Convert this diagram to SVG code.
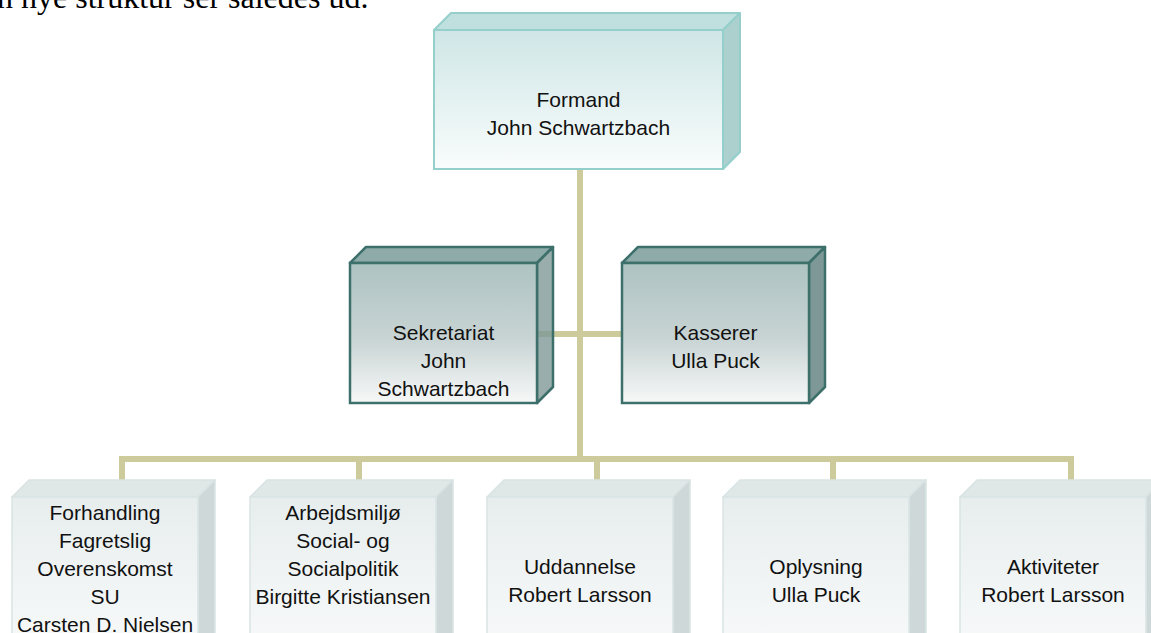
<svg xmlns="http://www.w3.org/2000/svg" width="1151" height="633" viewBox="0 0 1151 633">
  <defs>
    <linearGradient id="gTop" x1="0" y1="0" x2="0" y2="1">
      <stop offset="0" stop-color="#cfe6e6"/>
      <stop offset="1" stop-color="#f9fcfc"/>
    </linearGradient>
    <linearGradient id="gMid" x1="0" y1="0" x2="0" y2="1">
      <stop offset="0" stop-color="#adc3c2"/>
      <stop offset="0.55" stop-color="#c9d4d4"/>
      <stop offset="1" stop-color="#f7f8f8"/>
    </linearGradient>
    <linearGradient id="gBot" x1="0" y1="0" x2="0" y2="1">
      <stop offset="0" stop-color="#e7eded"/>
      <stop offset="1" stop-color="#fbfcfc"/>
    </linearGradient>
  </defs>
  <style>
    .t { font-family: "Liberation Sans", Arial, sans-serif; font-size: 21px; fill: #111; text-anchor: middle; }
    .cap { font-family: "Liberation Serif", "Times New Roman", serif; font-size: 32px; fill: #000; }
    .conn { stroke: #cdcb9b; stroke-width: 6; fill: none; }
    .topF { fill: url(#gTop); stroke: #94cfcc; stroke-width: 2; }
    .topT { fill: #bfe0df; stroke: #94cfcc; stroke-width: 2; stroke-linejoin: round; }
    .topR { fill: #acd0ce; stroke: #94cfcc; stroke-width: 2; stroke-linejoin: round; }
    .midF { fill: url(#gMid); stroke: #3d6f6b; stroke-width: 2.5; }
    .midT { fill: #8eaaa9; stroke: #3d6f6b; stroke-width: 2.5; stroke-linejoin: round; }
    .midR { fill: #7e9897; stroke: #3d6f6b; stroke-width: 2.5; stroke-linejoin: round; }
    .botF { fill: url(#gBot); stroke: #d9e3e3; stroke-width: 1.5; }
    .botT { fill: #dfe7e7; stroke: #d9e3e3; stroke-width: 1.5; stroke-linejoin: round; }
    .botR { fill: #cfd8d8; stroke: #d9e3e3; stroke-width: 1.5; stroke-linejoin: round; }
  </style>
  <rect width="1151" height="633" fill="#ffffff"/>

  <text class="cap" x="-3" y="8">n nye struktur ser således ud.</text>

  <g id="connectors">
    <line class="conn" x1="580" y1="168" x2="580" y2="459"/>
    <line class="conn" x1="537" y1="334" x2="622" y2="334"/>
    <polyline class="conn" points="122,481 122,459 1071,459 1071,481"/>
    <line class="conn" x1="359" y1="459" x2="359" y2="481"/>
    <line class="conn" x1="597" y1="459" x2="597" y2="481"/>
    <line class="conn" x1="833" y1="459" x2="833" y2="481"/>
  </g>

  <g id="formand">
    <polygon class="topT" points="434,30 451,13 740,13 723,30"/>
    <polygon class="topR" points="723,30 740,13 740,152 723,169"/>
    <rect class="topF" x="434" y="30" width="289" height="139"/>
    <text class="t" x="578.5" y="107">Formand</text>
    <text class="t" x="578.5" y="135">John Schwartzbach</text>
  </g>

  <g id="sekretariat">
    <polygon class="midT" points="350,263 366,247 553,247 537,263"/>
    <polygon class="midR" points="537,263 553,247 553,387 537,403" fill-opacity="0.8"/>
    <rect class="midF" x="350" y="263" width="187" height="140"/>
    <text class="t" x="443.5" y="340">Sekretariat</text>
    <text class="t" x="443.5" y="368">John</text>
    <text class="t" x="443.5" y="396">Schwartzbach</text>
  </g>

  <g id="kasserer">
    <polygon class="midT" points="622,263 638,247 825,247 809,263"/>
    <polygon class="midR" points="809,263 825,247 825,387 809,403"/>
    <rect class="midF" x="622" y="263" width="187" height="140"/>
    <text class="t" x="715.5" y="340">Kasserer</text>
    <text class="t" x="715.5" y="368">Ulla Puck</text>
  </g>

  <g id="forhandling">
    <polygon class="botT" points="12,497 29,480 215,480 198,497"/>
    <polygon class="botR" points="198,497 215,480 215,660 198,677"/>
    <rect class="botF" x="12" y="497" width="186" height="180"/>
    <text class="t" x="105" y="520">Forhandling</text>
    <text class="t" x="105" y="548">Fagretslig</text>
    <text class="t" x="105" y="576">Overenskomst</text>
    <text class="t" x="105" y="604">SU</text>
    <text class="t" x="105" y="632">Carsten D. Nielsen</text>
  </g>

  <g id="arbejdsmiljo">
    <polygon class="botT" points="250,497 267,480 453,480 436,497"/>
    <polygon class="botR" points="436,497 453,480 453,660 436,677"/>
    <rect class="botF" x="250" y="497" width="186" height="180"/>
    <text class="t" x="343" y="520">Arbejdsmiljø</text>
    <text class="t" x="343" y="548">Social- og</text>
    <text class="t" x="343" y="576">Socialpolitik</text>
    <text class="t" x="343" y="604">Birgitte Kristiansen</text>
  </g>

  <g id="uddannelse">
    <polygon class="botT" points="487,497 504,480 690,480 673,497"/>
    <polygon class="botR" points="673,497 690,480 690,660 673,677"/>
    <rect class="botF" x="487" y="497" width="186" height="180"/>
    <text class="t" x="580" y="574">Uddannelse</text>
    <text class="t" x="580" y="602">Robert Larsson</text>
  </g>

  <g id="oplysning">
    <polygon class="botT" points="723,497 740,480 926,480 909,497"/>
    <polygon class="botR" points="909,497 926,480 926,660 909,677"/>
    <rect class="botF" x="723" y="497" width="186" height="180"/>
    <text class="t" x="816" y="574">Oplysning</text>
    <text class="t" x="816" y="602">Ulla Puck</text>
  </g>

  <g id="aktiviteter">
    <polygon class="botT" points="960,497 977,480 1163,480 1146,497"/>
    <polygon class="botR" points="1146,497 1163,480 1163,660 1146,677"/>
    <rect class="botF" x="960" y="497" width="186" height="180"/>
    <text class="t" x="1053" y="574">Aktiviteter</text>
    <text class="t" x="1053" y="602">Robert Larsson</text>
  </g>
</svg>
